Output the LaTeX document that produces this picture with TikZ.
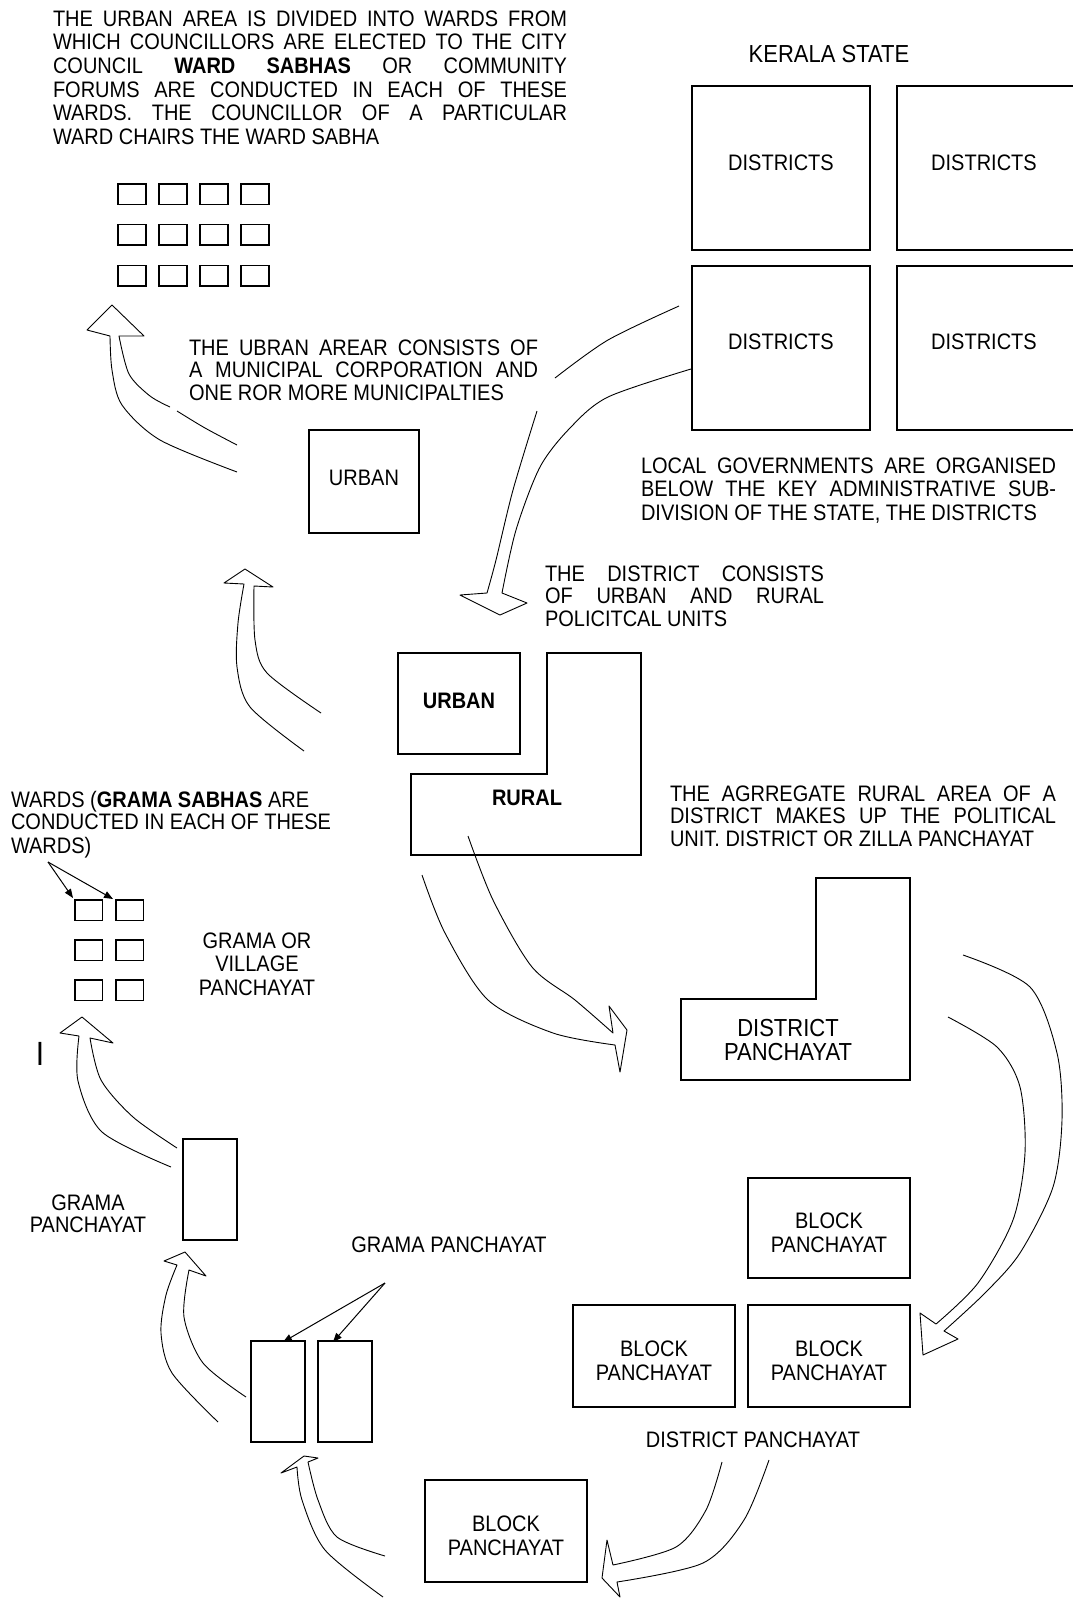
\documentclass[tikz,border=0pt]{standalone}
\usepackage{fontspec}
\setmainfont{Liberation Sans}
\usepackage{graphicx}
\usetikzlibrary{fit,arrows.meta}
\newcommand{\vs}[1]{\scalebox{1}[1.12]{#1}}
\newcommand{\jl}[2]{\makebox[#1][s]{#2}}
\tikzset{
  bx/.style={draw, line width=1.2pt, inner sep=0pt, outer sep=0pt},
  sq/.style={draw, line width=1.1pt, inner sep=0pt, outer sep=0pt},
  tx/.style={inner sep=0pt, outer sep=0pt, font=\fontsize{20}{#1}\selectfont},
  tx/.default=21,
  txbig/.style={inner sep=0pt, outer sep=0pt, font=\fontsize{22}{#1}\selectfont},
  txbig/.default=22,
  harrow/.style={line width=0.9pt, line join=round},
  ptr/.style={line width=1pt, -{Triangle[length=9pt,width=7pt]}},
}
\begin{document}
\begin{tikzpicture}[x=1pt,y=-1pt]
\useasboundingbox (0,0) rectangle (1072,1599);
\fill[white] (0,0) rectangle (1072,1599);

% ---------- top left text and ward grid ----------
\node[tx=21.2, anchor=base west] (t1) at (53,26) {\vs{\begin{tabular}[t]{@{}l@{}}
\jl{514pt}{THE URBAN AREA IS DIVIDED INTO WARDS FROM}\\
\jl{514pt}{WHICH COUNCILLORS ARE ELECTED TO THE CITY}\\
\jl{514pt}{COUNCIL \textbf{WARD SABHAS} OR COMMUNITY}\\
\jl{514pt}{FORUMS ARE CONDUCTED IN EACH OF THESE}\\
\jl{514pt}{WARDS. THE COUNCILLOR OF A PARTICULAR}\\
WARD CHAIRS THE WARD SABHA
\end{tabular}}};

\foreach \i/\x in {1/118,2/159,3/200,4/241}{
  \foreach \j/\y in {1/184,2/224.5,3/265.5}{
    \node[sq, fit={(\x,\y) (\x+28,\y+20.5)}] (w\i\j) {};
  }
}

% ---------- Kerala state districts ----------
\node[txbig, anchor=base] (kerala) at (829,62) {\vs{KERALA STATE}};
\node[bx, fit={(692,86) (870,250)}] (d1) {};
\node[bx, fit={(692,266) (870,430)}] (d3) {};
\draw[line width=1.2pt] (1073,86) -- (897,86) -- (897,250) -- (1073,250);
\draw[line width=1.2pt] (1073,266) -- (897,266) -- (897,430) -- (1073,430);
\node[tx, anchor=base] (d1t) at (781,170) {\vs{DISTRICTS}};
\node[tx, anchor=base] (d2t) at (984,170) {\vs{DISTRICTS}};
\node[tx, anchor=base] (d3t) at (781,349) {\vs{DISTRICTS}};
\node[tx, anchor=base] (d4t) at (984,349) {\vs{DISTRICTS}};

\node[tx=21.4, anchor=base west] (t4) at (641,473) {\vs{\begin{tabular}[t]{@{}l@{}}
\jl{415pt}{LOCAL GOVERNMENTS ARE ORGANISED}\\
\jl{415pt}{BELOW THE KEY ADMINISTRATIVE SUB-}\\
DIVISION OF THE STATE, THE DISTRICTS
\end{tabular}}};

% ---------- urban area ----------
\node[tx=20.5, anchor=base west] (t2) at (189,355) {\vs{\begin{tabular}[t]{@{}l@{}}
\jl{349pt}{THE UBRAN AREAR CONSISTS OF}\\
\jl{349pt}{A MUNICIPAL CORPORATION AND}\\
ONE ROR MORE MUNICIPALTIES
\end{tabular}}};
\node[bx, fit={(309,430) (419,533)}] (urb1) {};
\node[tx, anchor=base] (urb1t) at (364,485) {\vs{URBAN}};

% ---------- district: urban + rural ----------
\node[tx=20.1, anchor=base west] (t3) at (545,581) {\vs{\begin{tabular}[t]{@{}l@{}}
\jl{279pt}{THE DISTRICT CONSISTS}\\
\jl{279pt}{OF URBAN AND RURAL}\\
POLICITCAL UNITS
\end{tabular}}};
\node[bx, fit={(398,653) (520,754)}] (urb2) {};
\node[tx, anchor=base] (urb2t) at (459,708) {\vs{\textbf{URBAN}}};
\draw[line width=1.2pt] (547,653) -- (641,653) -- (641,855) -- (411,855) -- (411,774) -- (547,774) -- cycle;
\node[tx, anchor=base] (ruralt) at (527,805) {\vs{\textbf{RURAL}}};

\node[tx=20.1, anchor=base west] (t5) at (670,801) {\vs{\begin{tabular}[t]{@{}l@{}}
\jl{386pt}{THE AGRREGATE RURAL AREA OF A}\\
\jl{386pt}{DISTRICT MAKES UP THE POLITICAL}\\
UNIT. DISTRICT OR ZILLA PANCHAYAT
\end{tabular}}};

% ---------- district panchayat ----------
\draw[line width=1.2pt] (816,878) -- (910,878) -- (910,1080) -- (681,1080) -- (681,999) -- (816,999) -- cycle;
\node[txbig=22.3, anchor=base] (dpt) at (788,1036) {\vs{\begin{tabular}[t]{@{}c@{}}DISTRICT\\PANCHAYAT\end{tabular}}};

% ---------- grama wards ----------
\node[tx=20.5, anchor=base west] (t6) at (11,807) {\vs{\begin{tabular}[t]{@{}l@{}}
WARDS (\textbf{GRAMA SABHAS} ARE\\
CONDUCTED IN EACH OF THESE\\
WARDS)
\end{tabular}}};
\foreach \i/\x in {1/75,2/116}{
  \foreach \j/\y in {1/900,2/940,3/980}{
    \node[sq, fit={(\x,\y) (\x+27.5,\y+20.5)}] (g\i\j) {};
  }
}
\coordinate (wa) at (48,862);
\coordinate (wb1) at (73,898);
\coordinate (wb2) at (113,899);
\draw[ptr] (wa) -- (wb1);
\draw[ptr] (wa) -- (wb2);
\node[tx=21, anchor=base] (t7) at (257,948) {\vs{\begin{tabular}[t]{@{}c@{}}GRAMA OR\\VILLAGE\\PANCHAYAT\end{tabular}}};
\node[inner sep=0pt, font=\fontsize{30}{30}\selectfont, anchor=base] (bar) at (40,1065) {\vs{I}};

% ---------- grama panchayat boxes ----------
\node[bx, fit={(183,1139) (237,1240)}] (gp) {};
\node[tx=19.6, anchor=base] (t8) at (88,1210) {\vs{\begin{tabular}[t]{@{}c@{}}GRAMA\\PANCHAYAT\end{tabular}}};
\node[tx, anchor=base] (t9) at (449,1252) {\vs{GRAMA PANCHAYAT}};
\node[bx, fit={(251,1341) (305,1442)}] (gp1) {};
\node[bx, fit={(318,1341) (372,1442)}] (gp2) {};
\coordinate (gpa) at (385,1283);
\coordinate (gpb1) at (283,1342);
\coordinate (gpb2) at (333,1342);
\draw[ptr] (gpa) -- (gpb1);
\draw[ptr] (gpa) -- (gpb2);

% ---------- block panchayats ----------
\node[bx, fit={(748,1178) (910,1278)}] (bp1) {};
\node[bx, fit={(573,1305) (735,1407)}] (bp2) {};
\node[bx, fit={(748,1305) (910,1407)}] (bp3) {};
\node[bx, fit={(425,1480) (587,1582)}] (bp4) {};
\node[tx=22.3, anchor=base] (bp1t) at (829,1228) {\vs{\begin{tabular}[t]{@{}c@{}}BLOCK\\PANCHAYAT\end{tabular}}};
\node[tx=22.3, anchor=base] (bp2t) at (654,1356) {\vs{\begin{tabular}[t]{@{}c@{}}BLOCK\\PANCHAYAT\end{tabular}}};
\node[tx=22.3, anchor=base] (bp3t) at (829,1356) {\vs{\begin{tabular}[t]{@{}c@{}}BLOCK\\PANCHAYAT\end{tabular}}};
\node[tx=22.3, anchor=base] (bp4t) at (506,1531) {\vs{\begin{tabular}[t]{@{}c@{}}BLOCK\\PANCHAYAT\end{tabular}}};
\node[tx, anchor=base] (t11) at (753,1447) {\vs{DISTRICT PANCHAYAT}};

% ---------- hollow arrows ----------
% A: urban -> ward grid
\draw[harrow] plot[smooth] coordinates {(237,472) (160,440) (122,405) (112,370) (110,336)}
  -- (87,330) -- (112,305) -- (144,336)
  -- plot[smooth] coordinates {(119,336) (129,374) (150,396) (170,407)};
\draw[harrow] plot[smooth] coordinates {(177,411) (205,428) (237,445)};
% B: district -> urban
\draw[harrow] plot[smooth] coordinates {(304,751) (250,707) (237,667) (238,623) (244,584)}
  -- (224,583) -- (245,569) -- (273,587)
  -- plot[smooth] coordinates {(254,586) (255,640) (267,673) (321,713)};
% C: districts -> district
\draw[harrow] plot[smooth] coordinates {(679,306) (608,340) (555,378)};
\draw[harrow] plot[smooth] coordinates {(537,411) (513,490) (496,560) (487,593)}
  -- (460,595) -- (500,615) -- (527,603)
  -- plot[smooth] coordinates {(502,593) (516,530) (540,467) (570,428) (608,397) (691,369)};
% D: rural -> district panchayat
\draw[harrow] plot[smooth] coordinates {(422,875) (445,933) (488,1000) (553,1033) (615,1045)}
  -- (620,1072) -- (627,1030) -- (609,1006)
  -- plot[smooth] coordinates {(613,1033) (575,1000) (532,967) (493,900) (468,836)};
% I: district panchayat -> block panchayats
\draw[harrow] plot[smooth] coordinates {(963,955) (1030,987) (1057,1053) (1062,1120) (1053,1187) (1020,1253) (985,1293) (944,1331)}
  -- (958,1339) -- (923,1355) -- (920,1313)
  -- plot[smooth] coordinates {(936,1324) (978,1283) (1013,1220) (1025,1153) (1020,1087) (997,1047) (948,1017)};
% H: district panchayat -> block panchayat
\draw[harrow] plot[smooth] coordinates {(722,1462) (706,1510) (676,1547) (613,1565)}
  -- (607,1540) -- (602,1578) -- (620,1597)
  -- plot[smooth] coordinates {(617,1582) (703,1563) (744,1520) (769,1460)};
% G: block panchayat -> grama panchayats
\draw[harrow] plot[smooth] coordinates {(383,1597) (325,1550) (302,1500) (297,1467)}
  -- (281,1473) -- (304,1456) -- (318,1458)
  -- plot[smooth] coordinates {(308,1462) (318,1500) (337,1537) (385,1556)};
% F: grama panchayats -> grama panchayat
\draw[harrow] plot[smooth] coordinates {(218,1422) (172,1373) (161,1333) (166,1295) (177,1265)}
  -- (164,1261) -- (185,1252) -- (206,1276)
  -- plot[smooth] coordinates {(189,1270) (184,1317) (203,1363) (246,1397)};
% E: grama panchayat -> village wards
\draw[harrow] plot[smooth] coordinates {(171,1167) (102,1132) (78,1081) (79,1036)}
  -- (60,1033) -- (82,1017) -- (113,1043)
  -- plot[smooth] coordinates {(90,1038) (101,1080) (133,1117) (177,1148)};
\end{tikzpicture}
\end{document}
